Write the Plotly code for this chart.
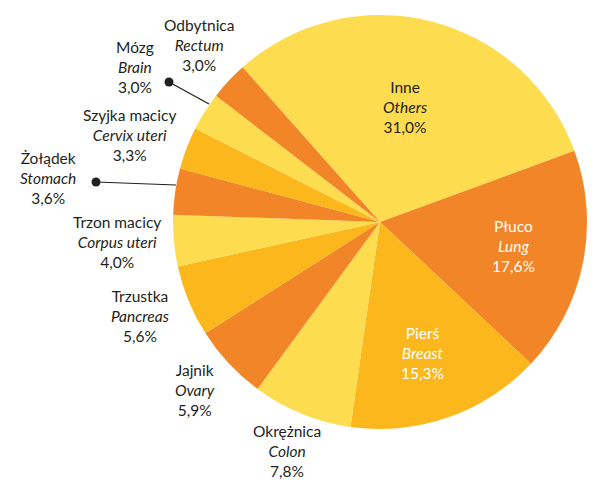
import plotly.graph_objects as go

# dane: nowotwory - udział procentowy
labels_pl = ["Inne", "Płuco", "Pierś", "Okrężnica", "Jajnik", "Trzustka",
             "Trzon macicy", "Żołądek", "Szyjka macicy", "Mózg", "Odbytnica"]
labels_en = ["Others", "Lung", "Breast", "Colon", "Ovary", "Pancreas",
             "Corpus uteri", "Stomach", "Cervix uteri", "Brain", "Rectum"]
values = [31.0, 17.6, 15.3, 7.8, 5.9, 5.6, 4.0, 3.6, 3.3, 3.0, 3.0]

YELLOW = "#FDDC50"
ORANGE = "#F28527"
GOLD = "#FBB71C"
colors = [YELLOW, ORANGE, GOLD, YELLOW, ORANGE, GOLD,
          YELLOW, ORANGE, GOLD, YELLOW, ORANGE]

W, H = 592, 480
CX, CY, R = 380, 222, 207


def px(x):
    return x / W


def py(y):
    return 1 - y / H


fig = go.Figure(go.Pie(
    labels=labels_en,
    values=values,
    sort=False,
    direction="clockwise",
    rotation=-41.6,
    marker=dict(colors=colors, line=dict(width=0)),
    textinfo="none",
    textposition="none",
    hoverinfo="skip",
    showlegend=False,
    domain=dict(x=[px(CX - R), px(CX + R)], y=[py(CY + R), py(CY - R)]),
))

# pozycje etykiet (środek bloku tekstu, w pikselach)
label_pos = [(405, 107), (513, 246), (423, 353), (287, 451), (195, 390),
             (140, 316), (117, 242), (48, 178), (129, 135), (135, 67),
             (199, 45)]
white_text = {"Płuco", "Pierś"}

for pl, en, v, (x, y) in zip(labels_pl, labels_en, values, label_pos):
    pct = f"{v:.1f}".replace(".", ",") + "%"
    fig.add_annotation(
        x=px(x), y=py(y), xref="paper", yref="paper",
        text=f"{pl}<br><i>{en}</i><br>{pct}",
        showarrow=False, xanchor="center", yanchor="middle",
        font=dict(color="white" if pl in white_text else "#231F20", size=15.5),
    )

# linie odniesienia z kropkami (Mózg, Żołądek)
for (x0, y0), (x1, y1) in [((169, 82), (209, 104)), ((96, 182), (176, 185))]:
    fig.add_shape(type="line", xref="paper", yref="paper",
                  x0=px(x0), y0=py(y0), x1=px(x1), y1=py(y1),
                  line=dict(color="#231F20", width=1.2))
    fig.add_shape(type="circle", xref="paper", yref="paper",
                  x0=px(x0 - 4.5), y0=py(y0 + 4.5), x1=px(x0 + 4.5), y1=py(y0 - 4.5),
                  fillcolor="#231F20", line=dict(width=0))

fig.update_layout(
    width=W, height=H,
    margin=dict(l=0, r=0, t=0, b=0),
    paper_bgcolor="white",
    plot_bgcolor="white",
    font=dict(family="Lato", size=15, color="#231F20"),
)

fig.write_html("out.html", config={"displayModeBar": False},
               post_script="document.body.style.margin='0';")
